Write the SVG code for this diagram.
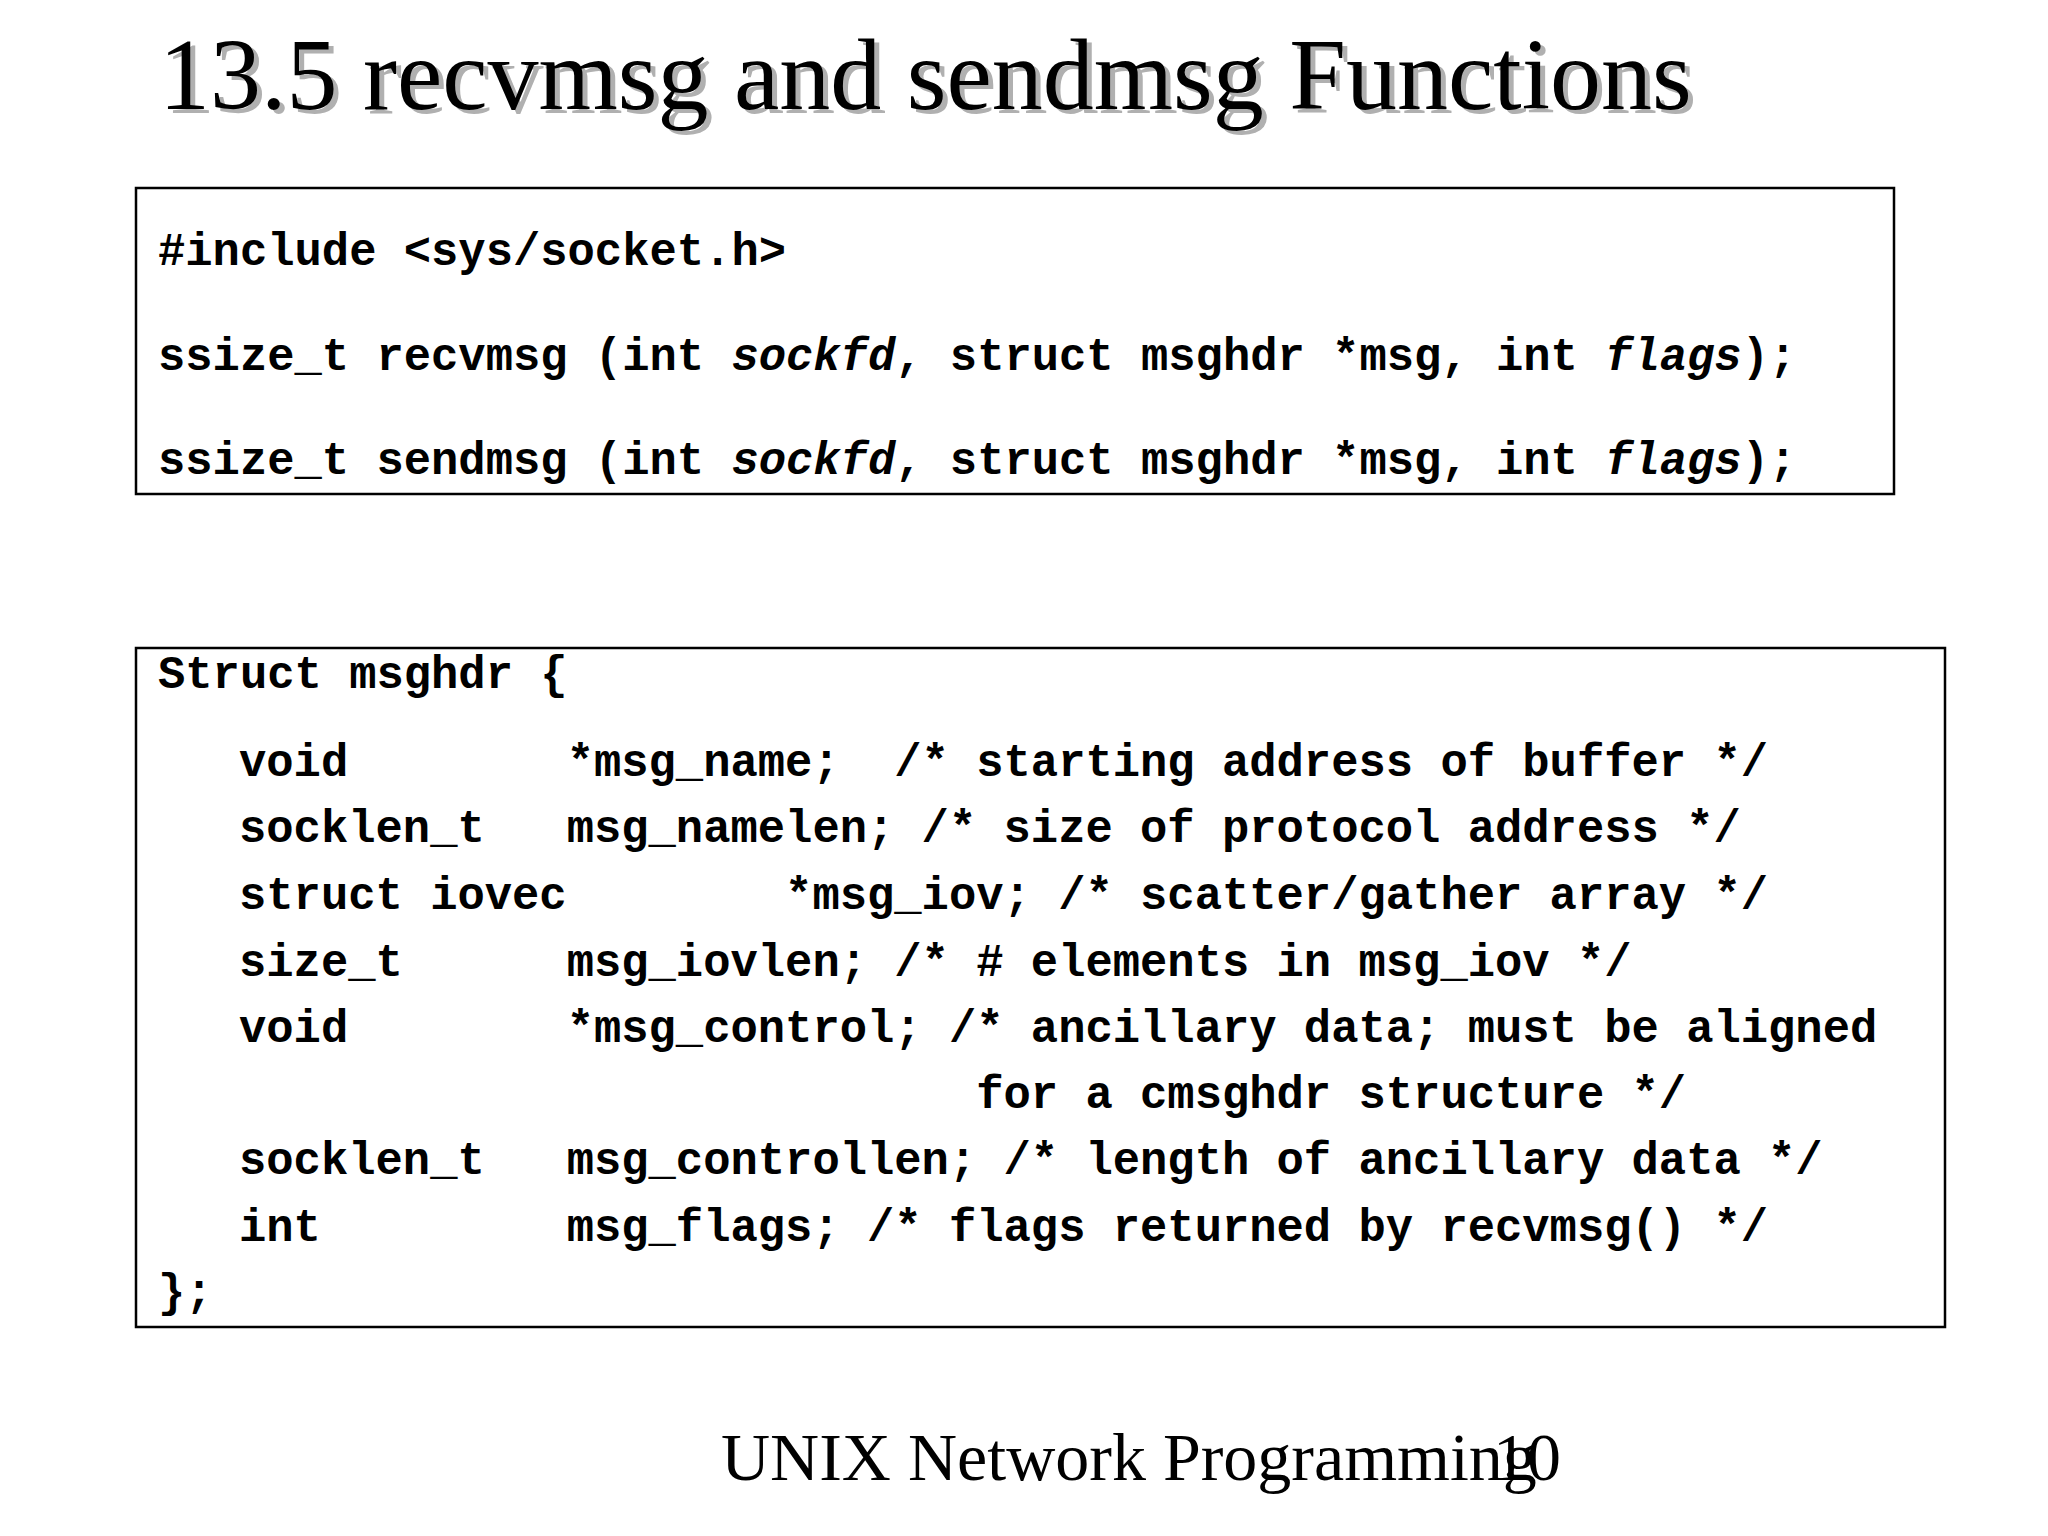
<svg xmlns="http://www.w3.org/2000/svg" width="2048" height="1536" viewBox="0 0 2048 1536">
<style>
.c{font-family:"Liberation Mono",monospace;font-weight:bold;font-size:45.5px;fill:#000;white-space:pre}
.i{font-style:italic}
.box{fill:none;stroke:#000;stroke-width:2.5}
.t{font-family:"Liberation Serif",serif;font-size:102px}
.f{font-family:"Liberation Serif",serif;font-size:68px;fill:#000}
</style>
<rect width="2048" height="1536" fill="#fff"/>
<g id="title">
<text class="t" x="164" y="113" fill="#b0b0b0">13.5 recvmsg and sendmsg Functions</text>
<text class="t" x="159" y="109" fill="#000">13.5 recvmsg and sendmsg Functions</text>
</g>
<g id="prototypes">
<rect class="box" x="136" y="188" width="1758" height="306"/>
<text class="c" x="158" y="265" xml:space="preserve">#include &lt;sys/socket.h&gt;</text>
<text class="c" x="158" y="370" xml:space="preserve">ssize_t recvmsg (int <tspan class="i">sockfd</tspan>, struct msghdr *msg, int <tspan class="i">flags</tspan>);</text>
<text class="c" x="158" y="474" xml:space="preserve">ssize_t sendmsg (int <tspan class="i">sockfd</tspan>, struct msghdr *msg, int <tspan class="i">flags</tspan>);</text>
</g>
<g id="msghdr">
<rect class="box" x="136" y="648" width="1809" height="679"/>
<text class="c" x="158" y="688" xml:space="preserve">Struct msghdr {</text>
<text class="c" x="239" y="776" xml:space="preserve">void        *msg_name;  /* starting address of buffer */</text>
<text class="c" x="239" y="842" xml:space="preserve">socklen_t   msg_namelen; /* size of protocol address */</text>
<text class="c" x="239" y="909" xml:space="preserve">struct iovec        *msg_iov; /* scatter/gather array */</text>
<text class="c" x="239" y="976" xml:space="preserve">size_t      msg_iovlen; /* # elements in msg_iov */</text>
<text class="c" x="239" y="1042" xml:space="preserve">void        *msg_control; /* ancillary data; must be aligned</text>
<text class="c" x="239" y="1108" xml:space="preserve">                           for a cmsghdr structure */</text>
<text class="c" x="239" y="1174" xml:space="preserve">socklen_t   msg_controllen; /* length of ancillary data */</text>
<text class="c" x="239" y="1241" xml:space="preserve">int         msg_flags; /* flags returned by recvmsg() */</text>
<text class="c" x="158" y="1306" xml:space="preserve">};</text>
</g>
<g id="footer">
<text class="f" x="721" y="1480">UNIX Network Programming</text>
<text class="f" x="1493" y="1480">10</text>
</g>
</svg>
